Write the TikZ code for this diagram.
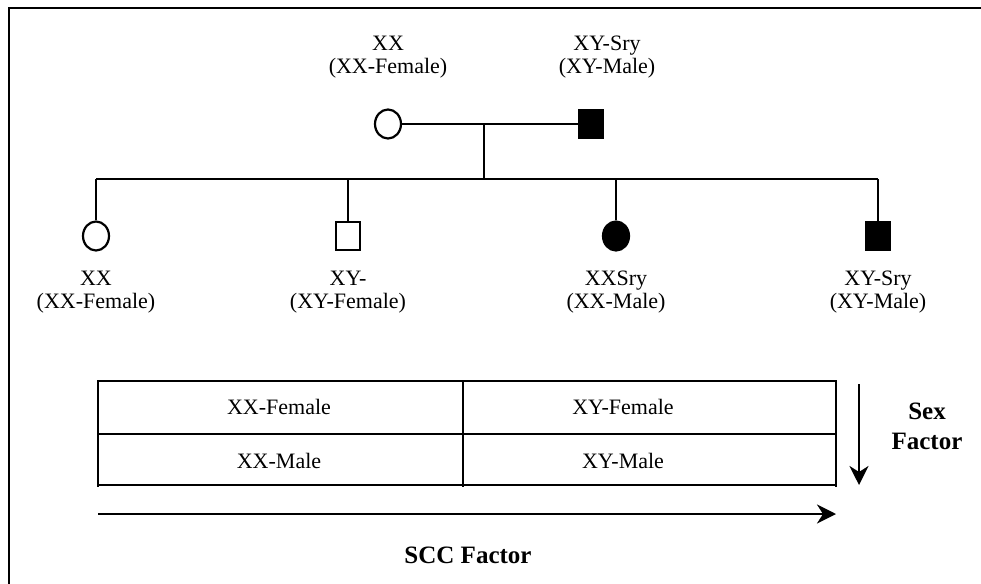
\documentclass[tikz,border=0pt]{standalone}
\usepackage{fontspec}
\setmainfont{Liberation Serif}
\usetikzlibrary{arrows.meta,shapes.geometric}
\begin{document}
\begin{tikzpicture}[x=1pt, y=-1pt, line width=2.2pt,
    fem/.style={ellipse, draw, minimum width=26pt, minimum height=29pt, inner sep=0pt},
    mal/.style={rectangle, draw, minimum width=24pt, minimum height=28pt, inner sep=0pt},
    lbl/.style={align=center, inner sep=0pt, font=\fontsize{22}{23.5}\selectfont},
    axis/.style={align=center, inner sep=0pt, font=\fontsize{25}{30}\selectfont\bfseries},
    factor/.style={line width=2.6pt, -{Stealth[length=19pt, width=19pt, inset=6pt]}}]
  \useasboundingbox (0,0) rectangle (981,583);
  \draw[line width=2.6pt] (9,8) rectangle (1000,600);
  \node[fem] (mom) at (388,124) {};
  \node[mal, fill=black] (dad) at (591,124) {};
  \node[lbl] (momlbl) at (388,57) {XX\\(XX-Female)};
  \node[lbl] (dadlbl) at (607,57) {XY-Sry\\(XY-Male)};
  \draw (mom) -- (dad);
  \coordinate (mid) at (484,124);
  \coordinate (sib) at (484,179);
  \draw (mid) -- (sib);
  \foreach \x/\n/\s/\c/\t in {96/c1/fem/white/{XX\\(XX-Female)},
                             348/c2/mal/white/{XY-\\(XY-Female)},
                             616/c3/fem/black/{XXSry\\(XX-Male)},
                             878/c4/mal/black/{XY-Sry\\(XY-Male)}} {
    \coordinate (d\n) at (\x,179);
    \node[\s, fill=\c] (\n) at (\x,236) {};
    \node[lbl] (\n lbl) at (\x,292) {\t};
    \draw (d\n) -- (\n);
  }
  \draw (dc1) -- (dc4);
  \draw[line width=2.7pt] (98,381) -- (836,381);
  \draw[line width=2.7pt] (98,485) -- (836,485);
  \draw (98,434) -- (836,434);
  \foreach \x in {98,463,836} {
    \draw (\x,380) -- (\x,487);
  }
  \node[lbl] (xxf) at (279,407) {XX-Female};
  \node[lbl] (xyf) at (623,407) {XY-Female};
  \node[lbl] (xxm) at (279,461) {XX-Male};
  \node[lbl] (xym) at (623,461) {XY-Male};
  \coordinate (sexa) at (859,384);
  \coordinate (sexb) at (859,485);
  \draw[factor] (sexa) -- (sexb);
  \node[axis] (sex) at (927,426) {Sex\\Factor};
  \coordinate (scca) at (98,514);
  \coordinate (sccb) at (836,514);
  \draw[factor] (scca) -- (sccb);
  \node[axis] (scc) at (468,555) {SCC Factor};
\end{tikzpicture}
\end{document}
